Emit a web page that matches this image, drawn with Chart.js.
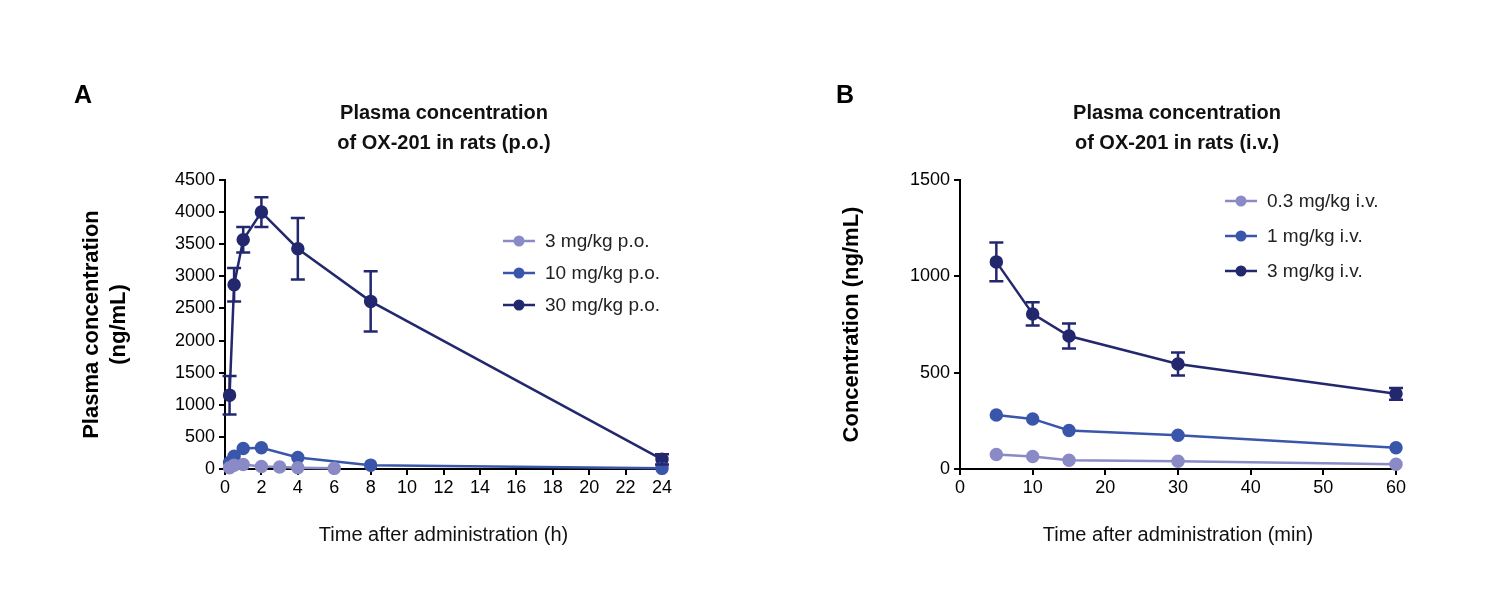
<!DOCTYPE html>
<html><head><meta charset="utf-8">
<script src="https://cdn.jsdelivr.net/npm/chart.js@4"></script>
<style>
body{margin:0;background:#fff;width:1497px;height:602px;overflow:hidden;position:relative}
canvas{position:absolute;top:0}
</style></head><body>
<canvas id="ca" width="748" height="602" style="left:0"></canvas>
<canvas id="cb" width="749" height="602" style="left:748px"></canvas>
<script>
// panel A (p.o., hours)
const poLabels = ['3 mg/kg p.o.', '10 mg/kg p.o.', '30 mg/kg p.o.']
const poTime3 = [0.25, 0.5, 1, 2, 3, 4, 6]
const poConc3 = [20, 60, 70, 40, 30, 20, 10]
const poTime = [0.25, 0.5, 1, 2, 4, 8, 24]
const poConc10 = [100, 200, 320, 330, 180, 60, 10]
const poConc30 = [1150, 2870, 3570, 4000, 3430, 2610, 150]
const poErr30 = [300, 260, 200, 230, 480, 470, 80]

// panel B (i.v., minutes)
const ivLabels = ['0.3 mg/kg i.v.', '1 mg/kg i.v.', '3 mg/kg i.v.']
const ivTime = [5, 10, 15, 30, 60]
const ivConc03 = [75, 65, 45, 40, 25]
const ivConc1 = [280, 260, 200, 175, 110]
const ivConc3 = [1075, 805, 690, 545, 390]
const ivErr3 = [100, 60, 65, 60, 30]

const colors = ['#8a8ac6', '#3a56aa', '#23286e']
const FONT = 'Liberation Sans, Arial, sans-serif'

function pts(xs, ys) { return xs.map((x, i) => ({ x: x, y: ys[i] })) }

function ds(label, data, c, err) {
    return {
        label: label, data: data, errors: err, clip: false,
        borderColor: c, backgroundColor: c, pointBackgroundColor: c,
        borderWidth: 2.5, pointRadius: 5.5, pointHoverRadius: 5.5
    }
}

const errorBars = {
    id: 'errorBars',
    afterDatasetsDraw(chart) {
        const ctx = chart.ctx
        chart.data.datasets.forEach((d, di) => {
            if (!d.errors) return
            const meta = chart.getDatasetMeta(di)
            ctx.save()
            ctx.strokeStyle = d.borderColor
            ctx.lineWidth = 2.5
            meta.data.forEach((p, i) => {
                const v = d.data[i].y, e = d.errors[i]
                const y1 = chart.scales.y.getPixelForValue(v + e)
                const y2 = chart.scales.y.getPixelForValue(Math.max(0, v - e))
                ctx.beginPath()
                ctx.moveTo(p.x, y1); ctx.lineTo(p.x, y2)
                ctx.moveTo(p.x - 7, y1); ctx.lineTo(p.x + 7, y1)
                ctx.moveTo(p.x - 7, y2); ctx.lineTo(p.x + 7, y2)
                ctx.stroke()
            })
            ctx.restore()
        })
    }
}

function decor(letter, titles, legend) {
    return {
        id: 'decor',
        afterDraw(chart) {
            const ctx = chart.ctx
            ctx.save()
            ctx.fillStyle = '#000'
            ctx.font = 'bold 25px ' + FONT
            ctx.textAlign = 'left'; ctx.textBaseline = 'middle'
            ctx.fillText(letter, legend.lx, 96)
            ctx.font = 'bold 20px ' + FONT
            ctx.fillStyle = '#111'
            ctx.textAlign = 'center'
            ctx.fillText(titles[0], legend.tx, 113)
            ctx.fillText(titles[1], legend.tx, 143)
            ctx.font = '19px ' + FONT
            ctx.textAlign = 'left'
            chart.data.datasets.forEach((d, i) => {
                const y = legend.y + i * legend.dy
                ctx.strokeStyle = d.borderColor; ctx.fillStyle = d.borderColor
                ctx.lineWidth = 2.5
                ctx.beginPath(); ctx.moveTo(legend.x, y); ctx.lineTo(legend.x + 32, y); ctx.stroke()
                ctx.beginPath(); ctx.arc(legend.x + 16, y, 5.5, 0, Math.PI * 2); ctx.fill()
                ctx.fillStyle = '#222'
                ctx.fillText(d.label, legend.x + 42, y + 1)
            })
            ctx.restore()
        }
    }
}

function makeChart(id, datasets, xo, yo, pad, yTitle, xTitle, deco) {
    return new Chart(document.getElementById(id), {
        type: 'line',
        data: { datasets: datasets },
        plugins: [errorBars, deco],
        options: {
            responsive: false, animation: false,
            layout: { padding: pad },
            plugins: { legend: { display: false }, tooltip: { enabled: false } },
            scales: {
                x: {
                    type: 'linear', min: xo.min, max: xo.max,
                    ticks: { stepSize: xo.step, color: '#000', font: { size: 18, family: FONT }, padding: 2, callback: v => String(v) },
                    grid: { drawOnChartArea: false, color: '#000', lineWidth: 2, tickLength: 6 },
                    border: { color: '#000', width: 2 },
                    title: { display: true, text: xTitle, color: '#111', font: { size: 20, family: FONT }, padding: { top: 14 } },
                    afterFit(s) { s.height = 82 }
                },
                y: {
                    min: yo.min, max: yo.max,
                    ticks: { stepSize: yo.step, color: '#000', font: { size: 18, family: FONT }, padding: 4, callback: v => String(v) },
                    grid: { drawOnChartArea: false, color: '#000', lineWidth: 2, tickLength: 6 },
                    border: { color: '#000', width: 2 },
                    title: { display: true, text: yTitle, color: '#000', font: { size: 22, weight: 'bold', family: FONT }, padding: 4 },
                    afterFit(s) { s.width = yo.w }
                }
            }
        }
    })
}

makeChart('ca', [
    ds(poLabels[0], pts(poTime3, poConc3), colors[0]),
    ds(poLabels[1], pts(poTime, poConc10), colors[1]),
    ds(poLabels[2], pts(poTime, poConc30), colors[2], poErr30)
], { min: 0, max: 24, step: 2 }, { min: 0, max: 4500, step: 500, w: 150 },
    { left: 75, right: 86, top: 180, bottom: 51 },
    ['Plasma concentration', '(ng/mL)'], 'Time after administration (h)',
    decor('A', ['Plasma concentration', 'of OX-201 in rats (p.o.)'], { lx: 74, tx: 444, x: 503, y: 241, dy: 32 }))

makeChart('cb', [
    ds(ivLabels[0], pts(ivTime, ivConc03), colors[0]),
    ds(ivLabels[1], pts(ivTime, ivConc1), colors[1]),
    ds(ivLabels[2], pts(ivTime, ivConc3), colors[2], ivErr3)
], { min: 0, max: 60, step: 10 }, { min: 0, max: 1500, step: 500, w: 125 },
    { left: 87, right: 101, top: 180, bottom: 51 },
    'Concentration (ng/mL)', 'Time after administration (min)',
    decor('B', ['Plasma concentration', 'of OX-201 in rats (i.v.)'], { lx: 88, tx: 429, x: 477, y: 201, dy: 35 }))
</script>
</body></html>
